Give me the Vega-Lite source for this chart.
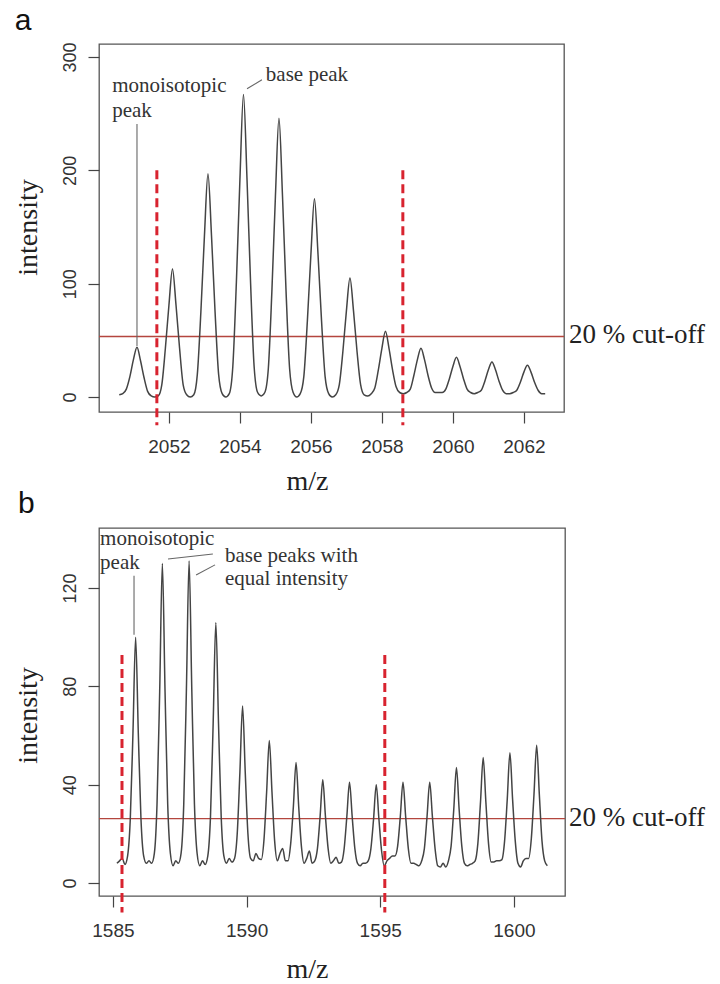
{
  "$schema": "https://vega.github.io/schema/vega-lite/v6.json",
  "autosize": {"type": "none"},
  "padding": {"left": 99, "top": 44, "right": 621, "bottom": 940},
  "background": "white",
  "config": {
    "view": {"stroke": "#555555", "strokeWidth": 1.3},
    "axis": {
      "domain": false, "grid": false, "tickColor": "#444444", "tickSize": 11, "tickWidth": 1.2,
      "labelFont": "Liberation Sans", "labelFontSize": 19, "labelColor": "#333333",
      "labelFlush": false, "labelOverlap": false,
      "titleFont": "Liberation Serif", "titleFontSize": 28, "titleFontWeight": "normal", "titleColor": "#222222"
    }
  },
  "bounds": "flush",
  "spacing": 116,
  "datasets": {
    "specA": [
      {"mz": 2050.6, "intensity": 2}, {"mz": 2050.7, "intensity": 3}, {"mz": 2050.8, "intensity": 7}, {"mz": 2050.9, "intensity": 18},
      {"mz": 2051.0, "intensity": 33}, {"mz": 2051.1, "intensity": 44}, {"mz": 2051.2, "intensity": 32}, {"mz": 2051.3, "intensity": 17},
      {"mz": 2051.4, "intensity": 5}, {"mz": 2051.5, "intensity": 1}, {"mz": 2051.6, "intensity": 0}, {"mz": 2051.7, "intensity": 1},
      {"mz": 2051.8, "intensity": 11}, {"mz": 2051.9, "intensity": 43}, {"mz": 2052.0, "intensity": 81}, {"mz": 2052.1, "intensity": 113},
      {"mz": 2052.2, "intensity": 81}, {"mz": 2052.3, "intensity": 43}, {"mz": 2052.4, "intensity": 11}, {"mz": 2052.5, "intensity": 2},
      {"mz": 2052.6, "intensity": 0}, {"mz": 2052.7, "intensity": 2}, {"mz": 2052.8, "intensity": 20}, {"mz": 2052.9, "intensity": 75},
      {"mz": 2053.0, "intensity": 142}, {"mz": 2053.1, "intensity": 197}, {"mz": 2053.2, "intensity": 142}, {"mz": 2053.3, "intensity": 75},
      {"mz": 2053.4, "intensity": 20}, {"mz": 2053.5, "intensity": 3}, {"mz": 2053.6, "intensity": 0}, {"mz": 2053.7, "intensity": 3},
      {"mz": 2053.8, "intensity": 27}, {"mz": 2053.9, "intensity": 101}, {"mz": 2054.0, "intensity": 192}, {"mz": 2054.1, "intensity": 267},
      {"mz": 2054.2, "intensity": 192}, {"mz": 2054.3, "intensity": 101}, {"mz": 2054.4, "intensity": 27}, {"mz": 2054.5, "intensity": 4},
      {"mz": 2054.6, "intensity": 1}, {"mz": 2054.7, "intensity": 4}, {"mz": 2054.8, "intensity": 25}, {"mz": 2054.9, "intensity": 93},
      {"mz": 2055.0, "intensity": 177}, {"mz": 2055.1, "intensity": 246}, {"mz": 2055.2, "intensity": 177}, {"mz": 2055.3, "intensity": 93},
      {"mz": 2055.4, "intensity": 25}, {"mz": 2055.5, "intensity": 4}, {"mz": 2055.6, "intensity": 0}, {"mz": 2055.7, "intensity": 3},
      {"mz": 2055.8, "intensity": 18}, {"mz": 2055.9, "intensity": 67}, {"mz": 2056.0, "intensity": 126}, {"mz": 2056.1, "intensity": 175},
      {"mz": 2056.2, "intensity": 126}, {"mz": 2056.3, "intensity": 67}, {"mz": 2056.4, "intensity": 18}, {"mz": 2056.5, "intensity": 3},
      {"mz": 2056.6, "intensity": 0}, {"mz": 2056.7, "intensity": 2}, {"mz": 2056.8, "intensity": 11}, {"mz": 2056.9, "intensity": 40},
      {"mz": 2057.0, "intensity": 76}, {"mz": 2057.1, "intensity": 105}, {"mz": 2057.2, "intensity": 76}, {"mz": 2057.3, "intensity": 40},
      {"mz": 2057.4, "intensity": 11}, {"mz": 2057.5, "intensity": 2}, {"mz": 2057.6, "intensity": 1}, {"mz": 2057.7, "intensity": 3},
      {"mz": 2057.8, "intensity": 8}, {"mz": 2057.9, "intensity": 24}, {"mz": 2058.0, "intensity": 43}, {"mz": 2058.1, "intensity": 58},
      {"mz": 2058.2, "intensity": 43}, {"mz": 2058.3, "intensity": 24}, {"mz": 2058.4, "intensity": 9}, {"mz": 2058.5, "intensity": 4},
      {"mz": 2058.6, "intensity": 3}, {"mz": 2058.7, "intensity": 4}, {"mz": 2058.8, "intensity": 7}, {"mz": 2058.9, "intensity": 19},
      {"mz": 2059.0, "intensity": 33}, {"mz": 2059.1, "intensity": 43}, {"mz": 2059.2, "intensity": 33}, {"mz": 2059.3, "intensity": 19},
      {"mz": 2059.4, "intensity": 8}, {"mz": 2059.5, "intensity": 4}, {"mz": 2059.6, "intensity": 4}, {"mz": 2059.7, "intensity": 4},
      {"mz": 2059.8, "intensity": 7}, {"mz": 2059.9, "intensity": 16}, {"mz": 2060.0, "intensity": 27}, {"mz": 2060.1, "intensity": 35},
      {"mz": 2060.2, "intensity": 27}, {"mz": 2060.3, "intensity": 16}, {"mz": 2060.4, "intensity": 7}, {"mz": 2060.5, "intensity": 4},
      {"mz": 2060.6, "intensity": 3}, {"mz": 2060.7, "intensity": 4}, {"mz": 2060.8, "intensity": 6}, {"mz": 2060.9, "intensity": 14},
      {"mz": 2061.0, "intensity": 24}, {"mz": 2061.1, "intensity": 31}, {"mz": 2061.2, "intensity": 24}, {"mz": 2061.3, "intensity": 14},
      {"mz": 2061.4, "intensity": 6}, {"mz": 2061.5, "intensity": 3}, {"mz": 2061.6, "intensity": 3}, {"mz": 2061.7, "intensity": 4},
      {"mz": 2061.8, "intensity": 6}, {"mz": 2061.9, "intensity": 13}, {"mz": 2062.0, "intensity": 22}, {"mz": 2062.1, "intensity": 28},
      {"mz": 2062.2, "intensity": 22}, {"mz": 2062.3, "intensity": 13}, {"mz": 2062.4, "intensity": 6}, {"mz": 2062.5, "intensity": 3},
      {"mz": 2062.6, "intensity": 3}
    ],
    "specB": [
      {"mz": 1585.15, "intensity": 8}, {"mz": 1585.25, "intensity": 9}, {"mz": 1585.35, "intensity": 10}, {"mz": 1585.45, "intensity": 7.5},
      {"mz": 1585.55, "intensity": 11}, {"mz": 1585.65, "intensity": 26}, {"mz": 1585.75, "intensity": 61}, {"mz": 1585.85, "intensity": 100},
      {"mz": 1585.95, "intensity": 61}, {"mz": 1586.05, "intensity": 26}, {"mz": 1586.15, "intensity": 11}, {"mz": 1586.25, "intensity": 8},
      {"mz": 1586.35, "intensity": 9}, {"mz": 1586.45, "intensity": 8}, {"mz": 1586.55, "intensity": 12}, {"mz": 1586.65, "intensity": 32},
      {"mz": 1586.75, "intensity": 78}, {"mz": 1586.85, "intensity": 130}, {"mz": 1586.95, "intensity": 78}, {"mz": 1587.05, "intensity": 32},
      {"mz": 1587.15, "intensity": 12}, {"mz": 1587.25, "intensity": 7}, {"mz": 1587.35, "intensity": 9}, {"mz": 1587.45, "intensity": 8},
      {"mz": 1587.55, "intensity": 12}, {"mz": 1587.65, "intensity": 32}, {"mz": 1587.75, "intensity": 79}, {"mz": 1587.85, "intensity": 131},
      {"mz": 1587.95, "intensity": 79}, {"mz": 1588.05, "intensity": 32}, {"mz": 1588.15, "intensity": 12}, {"mz": 1588.25, "intensity": 7},
      {"mz": 1588.35, "intensity": 9}, {"mz": 1588.45, "intensity": 7.5}, {"mz": 1588.55, "intensity": 11}, {"mz": 1588.65, "intensity": 27},
      {"mz": 1588.75, "intensity": 65}, {"mz": 1588.85, "intensity": 106}, {"mz": 1588.95, "intensity": 65}, {"mz": 1589.05, "intensity": 27},
      {"mz": 1589.15, "intensity": 11}, {"mz": 1589.25, "intensity": 8}, {"mz": 1589.35, "intensity": 10}, {"mz": 1589.45, "intensity": 8.5},
      {"mz": 1589.55, "intensity": 10}, {"mz": 1589.65, "intensity": 20}, {"mz": 1589.75, "intensity": 45}, {"mz": 1589.85, "intensity": 72},
      {"mz": 1589.95, "intensity": 45}, {"mz": 1590.05, "intensity": 20}, {"mz": 1590.15, "intensity": 10}, {"mz": 1590.25, "intensity": 9},
      {"mz": 1590.35, "intensity": 12}, {"mz": 1590.45, "intensity": 10}, {"mz": 1590.55, "intensity": 9.5}, {"mz": 1590.65, "intensity": 17.5},
      {"mz": 1590.75, "intensity": 37}, {"mz": 1590.85, "intensity": 58}, {"mz": 1590.95, "intensity": 37}, {"mz": 1591.05, "intensity": 17},
      {"mz": 1591.15, "intensity": 9}, {"mz": 1591.25, "intensity": 12}, {"mz": 1591.35, "intensity": 14}, {"mz": 1591.45, "intensity": 9},
      {"mz": 1591.55, "intensity": 9}, {"mz": 1591.65, "intensity": 16}, {"mz": 1591.75, "intensity": 31}, {"mz": 1591.85, "intensity": 49},
      {"mz": 1591.95, "intensity": 31}, {"mz": 1592.05, "intensity": 15}, {"mz": 1592.15, "intensity": 8}, {"mz": 1592.25, "intensity": 10},
      {"mz": 1592.35, "intensity": 13}, {"mz": 1592.45, "intensity": 8}, {"mz": 1592.55, "intensity": 9}, {"mz": 1592.65, "intensity": 14},
      {"mz": 1592.75, "intensity": 27}, {"mz": 1592.85, "intensity": 42}, {"mz": 1592.95, "intensity": 27}, {"mz": 1593.05, "intensity": 14},
      {"mz": 1593.15, "intensity": 8}, {"mz": 1593.25, "intensity": 9}, {"mz": 1593.35, "intensity": 10.5}, {"mz": 1593.45, "intensity": 8},
      {"mz": 1593.55, "intensity": 8.5}, {"mz": 1593.65, "intensity": 14}, {"mz": 1593.75, "intensity": 27}, {"mz": 1593.85, "intensity": 41},
      {"mz": 1593.95, "intensity": 27}, {"mz": 1594.05, "intensity": 14}, {"mz": 1594.15, "intensity": 8}, {"mz": 1594.25, "intensity": 7},
      {"mz": 1594.35, "intensity": 8}, {"mz": 1594.45, "intensity": 8}, {"mz": 1594.55, "intensity": 9}, {"mz": 1594.65, "intensity": 14},
      {"mz": 1594.75, "intensity": 26}, {"mz": 1594.85, "intensity": 40}, {"mz": 1594.95, "intensity": 26}, {"mz": 1595.05, "intensity": 13},
      {"mz": 1595.15, "intensity": 7}, {"mz": 1595.25, "intensity": 9}, {"mz": 1595.35, "intensity": 10}, {"mz": 1595.45, "intensity": 11},
      {"mz": 1595.55, "intensity": 11}, {"mz": 1595.65, "intensity": 15}, {"mz": 1595.75, "intensity": 27}, {"mz": 1595.85, "intensity": 41},
      {"mz": 1595.95, "intensity": 27}, {"mz": 1596.05, "intensity": 14}, {"mz": 1596.15, "intensity": 8}, {"mz": 1596.25, "intensity": 8},
      {"mz": 1596.35, "intensity": 7.5}, {"mz": 1596.45, "intensity": 7}, {"mz": 1596.55, "intensity": 9}, {"mz": 1596.65, "intensity": 14},
      {"mz": 1596.75, "intensity": 27}, {"mz": 1596.85, "intensity": 41}, {"mz": 1596.95, "intensity": 27}, {"mz": 1597.05, "intensity": 14},
      {"mz": 1597.15, "intensity": 7}, {"mz": 1597.25, "intensity": 6.5}, {"mz": 1597.35, "intensity": 8}, {"mz": 1597.45, "intensity": 6.5},
      {"mz": 1597.55, "intensity": 9}, {"mz": 1597.65, "intensity": 15}, {"mz": 1597.75, "intensity": 30}, {"mz": 1597.85, "intensity": 47},
      {"mz": 1597.95, "intensity": 30}, {"mz": 1598.05, "intensity": 15}, {"mz": 1598.15, "intensity": 8}, {"mz": 1598.25, "intensity": 7},
      {"mz": 1598.35, "intensity": 7.5}, {"mz": 1598.45, "intensity": 8}, {"mz": 1598.55, "intensity": 9}, {"mz": 1598.65, "intensity": 16},
      {"mz": 1598.75, "intensity": 33}, {"mz": 1598.85, "intensity": 51}, {"mz": 1598.95, "intensity": 33}, {"mz": 1599.05, "intensity": 16},
      {"mz": 1599.15, "intensity": 8.5}, {"mz": 1599.25, "intensity": 8.5}, {"mz": 1599.35, "intensity": 9}, {"mz": 1599.45, "intensity": 9},
      {"mz": 1599.55, "intensity": 9.5}, {"mz": 1599.65, "intensity": 17}, {"mz": 1599.75, "intensity": 34}, {"mz": 1599.85, "intensity": 53},
      {"mz": 1599.95, "intensity": 34}, {"mz": 1600.05, "intensity": 17}, {"mz": 1600.15, "intensity": 8}, {"mz": 1600.25, "intensity": 6.5},
      {"mz": 1600.35, "intensity": 9}, {"mz": 1600.45, "intensity": 10}, {"mz": 1600.55, "intensity": 10}, {"mz": 1600.65, "intensity": 18},
      {"mz": 1600.75, "intensity": 36}, {"mz": 1600.85, "intensity": 56}, {"mz": 1600.95, "intensity": 36}, {"mz": 1601.05, "intensity": 17},
      {"mz": 1601.15, "intensity": 9}, {"mz": 1601.25, "intensity": 7}
    ],
    "textA": [
      {"mz": 2050.40, "intensity": 269, "label": "monoisotopic"},
      {"mz": 2050.40, "intensity": 247, "label": "peak"},
      {"mz": 2054.73, "intensity": 279, "label": "base peak"}
    ],
    "leadA": [
      {"mz": 2051.10, "intensity": 241, "mz2": 2051.10, "intensity2": 45},
      {"mz": 2054.20, "intensity": 272, "mz2": 2054.62, "intensity2": 280}
    ],
    "dashA": [
      {"mz": 2051.66, "intensity": 200, "intensity2": -25},
      {"mz": 2058.59, "intensity": 200, "intensity2": -25}
    ],
    "cutA": [{"intensity": 53.4}],
    "cutLabelA": [{"mz": 2063.27, "intensity": 47.5, "label": "20 % cut-off"}],
    "panelA": [{"mz": 2047.66, "intensity": 323.8, "label": "a"}],
    "textB": [
      {"mz": 1584.52, "intensity": 137.5, "label": "monoisotopic"},
      {"mz": 1584.52, "intensity": 127.7, "label": "peak"},
      {"mz": 1589.19, "intensity": 130.6, "label": "base peaks with"},
      {"mz": 1589.19, "intensity": 121.2, "label": "equal intensity"}
    ],
    "leadB": [
      {"mz": 1585.79, "intensity": 125, "mz2": 1585.79, "intensity2": 101},
      {"mz": 1587.06, "intensity": 131.8, "mz2": 1588.74, "intensity2": 133.8},
      {"mz": 1588.11, "intensity": 125.3, "mz2": 1588.82, "intensity2": 129.4}
    ],
    "dashB": [
      {"mz": 1585.34, "intensity": 92.7, "intensity2": -12},
      {"mz": 1595.17, "intensity": 92.7, "intensity2": -12}
    ],
    "cutB": [{"intensity": 26.2}],
    "cutLabelB": [{"mz": 1602.06, "intensity": 23.2, "label": "20 % cut-off"}],
    "panelB": [{"mz": 1581.45, "intensity": 150.5, "label": "b"}]
  },
  "vconcat": [
    {
      "width": 465,
      "height": 368,
      "layer": [
        {
          "data": {"name": "cutA"},
          "mark": {"type": "rule", "color": "#b4463e", "strokeWidth": 1.3},
          "encoding": {
            "y": {"field": "intensity", "type": "quantitative", "scale": {"domain": [-13.2, 311.5], "nice": false, "zero": false},
                  "axis": {"values": [0, 100, 200, 300], "format": "d", "title": "intensity", "labelAngle": -90, "labelAlign": "center", "labelBaseline": "bottom", "labelPadding": 9, "labelFontSize": 18, "titleX": -63, "titleY": 183, "titleAlign": "center", "titleBaseline": "alphabetic", "titleAngle": -90}}
          }
        },
        {
          "data": {"name": "specA"},
          "mark": {"type": "line", "color": "#444444", "strokeWidth": 1.5, "interpolate": "monotone"},
          "encoding": {
            "x": {"field": "mz", "type": "quantitative", "scale": {"domain": [2050.03, 2063.13], "nice": false, "zero": false},
                  "axis": {"values": [2052, 2054, 2056, 2058, 2060, 2062], "format": "d", "title": "m/z", "labelPadding": 14, "titleX": 208, "titleY": 77, "titleAlign": "center", "titleBaseline": "alphabetic"}},
            "y": {"field": "intensity", "type": "quantitative", "scale": {"domain": [-13.2, 311.5], "nice": false, "zero": false},
                  "axis": {"values": [0, 100, 200, 300], "format": "d", "title": "intensity", "labelAngle": -90, "labelAlign": "center", "labelBaseline": "bottom", "labelPadding": 9, "labelFontSize": 18, "titleX": -63, "titleY": 183, "titleAlign": "center", "titleBaseline": "alphabetic", "titleAngle": -90}}
          }
        },
        {
          "data": {"name": "dashA"},
          "mark": {"type": "rule", "color": "#d8232f", "strokeWidth": 3, "strokeDash": [9, 5]},
          "encoding": {
            "x": {"field": "mz", "type": "quantitative", "scale": {"domain": [2050.03, 2063.13], "nice": false, "zero": false}},
            "y": {"field": "intensity", "type": "quantitative", "scale": {"domain": [-13.2, 311.5], "nice": false, "zero": false}},
            "y2": {"field": "intensity2"}
          }
        },
        {
          "data": {"name": "leadA"},
          "mark": {"type": "rule", "color": "#666666", "strokeWidth": 1.1},
          "encoding": {
            "x": {"field": "mz", "type": "quantitative", "scale": {"domain": [2050.03, 2063.13], "nice": false, "zero": false}},
            "y": {"field": "intensity", "type": "quantitative", "scale": {"domain": [-13.2, 311.5], "nice": false, "zero": false}},
            "x2": {"field": "mz2"},
            "y2": {"field": "intensity2"}
          }
        },
        {
          "data": {"name": "textA"},
          "mark": {"type": "text", "align": "left", "baseline": "alphabetic", "font": "Liberation Serif", "fontSize": 21, "color": "#333333"},
          "encoding": {
            "x": {"field": "mz", "type": "quantitative", "scale": {"domain": [2050.03, 2063.13], "nice": false, "zero": false}},
            "y": {"field": "intensity", "type": "quantitative", "scale": {"domain": [-13.2, 311.5], "nice": false, "zero": false}},
            "text": {"field": "label"}
          }
        },
        {
          "data": {"name": "cutLabelA"},
          "mark": {"type": "text", "align": "left", "baseline": "alphabetic", "font": "Liberation Serif", "fontSize": 27, "color": "#222222"},
          "encoding": {
            "x": {"field": "mz", "type": "quantitative", "scale": {"domain": [2050.03, 2063.13], "nice": false, "zero": false}},
            "y": {"field": "intensity", "type": "quantitative", "scale": {"domain": [-13.2, 311.5], "nice": false, "zero": false}},
            "text": {"field": "label"}
          }
        },
        {
          "data": {"name": "panelA"},
          "mark": {"type": "text", "align": "left", "baseline": "alphabetic", "font": "Liberation Sans", "fontSize": 30, "color": "#111111"},
          "encoding": {
            "x": {"field": "mz", "type": "quantitative", "scale": {"domain": [2050.03, 2063.13], "nice": false, "zero": false}},
            "y": {"field": "intensity", "type": "quantitative", "scale": {"domain": [-13.2, 311.5], "nice": false, "zero": false}},
            "text": {"field": "label"}
          }
        }
      ]
    },
    {
      "width": 466,
      "height": 368,
      "layer": [
        {
          "data": {"name": "cutB"},
          "mark": {"type": "rule", "color": "#b4463e", "strokeWidth": 1.3},
          "encoding": {
            "y": {"field": "intensity", "type": "quantitative", "scale": {"domain": [-5.3, 144.4], "nice": false, "zero": false},
                  "axis": {"values": [0, 40, 80, 120], "format": "d", "title": "intensity", "labelAngle": -90, "labelAlign": "center", "labelBaseline": "bottom", "labelPadding": 9, "labelFontSize": 18, "titleX": -63, "titleY": 187, "titleAlign": "center", "titleBaseline": "alphabetic", "titleAngle": -90}}
          }
        },
        {
          "data": {"name": "specB"},
          "mark": {"type": "line", "color": "#444444", "strokeWidth": 1.5, "interpolate": "monotone"},
          "encoding": {
            "x": {"field": "mz", "type": "quantitative", "scale": {"domain": [1584.48, 1601.91], "nice": false, "zero": false},
                  "axis": {"values": [1585, 1590, 1595, 1600], "format": "d", "title": "m/z", "labelPadding": 14, "titleX": 208, "titleY": 81, "titleAlign": "center", "titleBaseline": "alphabetic"}},
            "y": {"field": "intensity", "type": "quantitative", "scale": {"domain": [-5.3, 144.4], "nice": false, "zero": false},
                  "axis": {"values": [0, 40, 80, 120], "format": "d", "title": "intensity", "labelAngle": -90, "labelAlign": "center", "labelBaseline": "bottom", "labelPadding": 9, "labelFontSize": 18, "titleX": -63, "titleY": 187, "titleAlign": "center", "titleBaseline": "alphabetic", "titleAngle": -90}}
          }
        },
        {
          "data": {"name": "dashB"},
          "mark": {"type": "rule", "color": "#d8232f", "strokeWidth": 3, "strokeDash": [9, 5]},
          "encoding": {
            "x": {"field": "mz", "type": "quantitative", "scale": {"domain": [1584.48, 1601.91], "nice": false, "zero": false}},
            "y": {"field": "intensity", "type": "quantitative", "scale": {"domain": [-5.3, 144.4], "nice": false, "zero": false}},
            "y2": {"field": "intensity2"}
          }
        },
        {
          "data": {"name": "leadB"},
          "mark": {"type": "rule", "color": "#666666", "strokeWidth": 1.1},
          "encoding": {
            "x": {"field": "mz", "type": "quantitative", "scale": {"domain": [1584.48, 1601.91], "nice": false, "zero": false}},
            "y": {"field": "intensity", "type": "quantitative", "scale": {"domain": [-5.3, 144.4], "nice": false, "zero": false}},
            "x2": {"field": "mz2"},
            "y2": {"field": "intensity2"}
          }
        },
        {
          "data": {"name": "textB"},
          "mark": {"type": "text", "align": "left", "baseline": "alphabetic", "font": "Liberation Serif", "fontSize": 21, "color": "#333333"},
          "encoding": {
            "x": {"field": "mz", "type": "quantitative", "scale": {"domain": [1584.48, 1601.91], "nice": false, "zero": false}},
            "y": {"field": "intensity", "type": "quantitative", "scale": {"domain": [-5.3, 144.4], "nice": false, "zero": false}},
            "text": {"field": "label"}
          }
        },
        {
          "data": {"name": "cutLabelB"},
          "mark": {"type": "text", "align": "left", "baseline": "alphabetic", "font": "Liberation Serif", "fontSize": 27, "color": "#222222"},
          "encoding": {
            "x": {"field": "mz", "type": "quantitative", "scale": {"domain": [1584.48, 1601.91], "nice": false, "zero": false}},
            "y": {"field": "intensity", "type": "quantitative", "scale": {"domain": [-5.3, 144.4], "nice": false, "zero": false}},
            "text": {"field": "label"}
          }
        },
        {
          "data": {"name": "panelB"},
          "mark": {"type": "text", "align": "left", "baseline": "alphabetic", "font": "Liberation Sans", "fontSize": 30, "color": "#111111"},
          "encoding": {
            "x": {"field": "mz", "type": "quantitative", "scale": {"domain": [1584.48, 1601.91], "nice": false, "zero": false}},
            "y": {"field": "intensity", "type": "quantitative", "scale": {"domain": [-5.3, 144.4], "nice": false, "zero": false}},
            "text": {"field": "label"}
          }
        }
      ]
    }
  ]
}
